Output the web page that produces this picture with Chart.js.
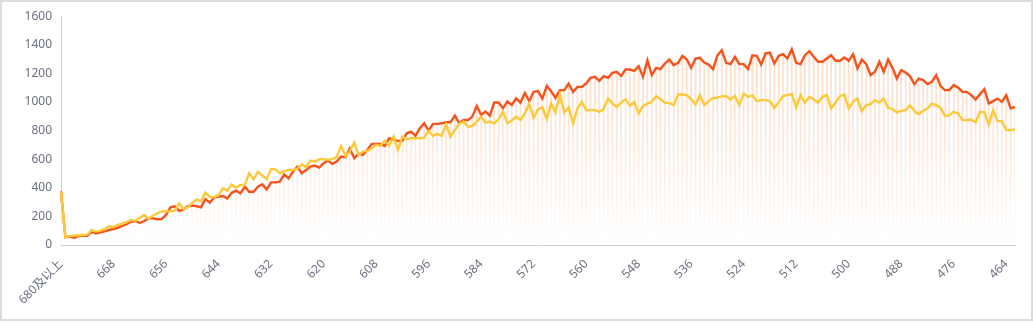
<!DOCTYPE html>
<html>
<head>
<meta charset="utf-8">
<script src="https://cdn.jsdelivr.net/npm/chart.js@4"></script>
<style>
  html, body { margin: 0; padding: 0; background: #fff; }
  #wrap { position: relative; width: 1033px; height: 330px; }
  #frame { position: absolute; left: 0; top: 0; width: 1033px; height: 321px; box-sizing: border-box; border: 2px solid #dcdcdc; pointer-events: none; }
  canvas { position: absolute; left: 0; top: 0; }
</style>
</head>
<body>
<div id="wrap">
  <canvas id="chart" width="1033" height="330"></canvas>
  <div id="frame"></div>
</div>
<script>
// score labels: first bucket is "680及以上", then 679 down to 462
const scoreLabels = ['680及以上'];
for (let s = 679; s >= 462; s--) scoreLabels.push(String(s));

// orange line (also drawn as the faded drop bars)
const countsOrange = [
    375, 55, 58, 50, 62, 65, 65, 93, 81, 88, 95, 105, 112, 120, 133, 145, 163, 168, 154, 168,
    186, 186, 180, 182, 210, 263, 271, 239, 248, 271, 276, 271, 263, 321, 296, 333, 338, 342, 326, 365,
    380, 361, 407, 372, 372, 407, 424, 389, 438, 438, 443, 494, 466,
    513, 548, 502, 525, 548, 555, 541, 572, 590, 567, 583, 618, 614, 676, 607, 637, 630, 665, 707, 707,
    707, 693, 746, 735, 728, 728, 781, 793, 763, 816, 851, 800, 847, 847, 851, 858, 858, 905, 851, 874,
    874, 898, 972, 909, 933, 905, 996, 996, 956, 1003, 979, 1026, 996, 1063, 1005,
    1071, 1076, 1024, 1113, 1076, 1029, 1083, 1083, 1129, 1071, 1106, 1106, 1129, 1169, 1176, 1148, 1181, 1169,
    1204, 1211, 1183, 1227, 1227, 1218, 1251, 1176, 1292, 1188, 1239, 1230, 1269, 1297, 1258, 1274, 1323, 1297,
    1239, 1304, 1309, 1276, 1262, 1230, 1327, 1362, 1274, 1265, 1316, 1265, 1265, 1230, 1327, 1323, 1262, 1340,
    1346, 1269, 1323, 1334, 1304, 1369, 1274, 1265, 1327, 1355, 1316, 1281, 1281, 1304, 1327, 1288, 1288, 1311,
    1288, 1334, 1234, 1297, 1265, 1188, 1211, 1281, 1211, 1297, 1239, 1164, 1223, 1206, 1181, 1125, 1164, 1153,
    1125, 1141, 1188, 1111, 1083, 1083, 1118, 1101, 1071, 1071, 1048, 1017, 1055, 1090, 989, 1006, 1024, 1001,
    1048, 955, 966
];

// yellow line
const countsYellow = [
    370, 55, 62, 65, 68, 70, 72, 105, 92, 100, 112, 133, 125, 140, 150, 160, 175, 168, 190, 210,
    185, 205, 222, 233, 238, 235, 240, 291, 250, 265, 295, 319, 305, 365, 337, 335, 350, 396, 380, 424,
    400, 420, 420, 501, 459, 512, 485, 460, 531, 529, 501, 517, 524,
    525, 532, 565, 544, 590, 583, 600, 600, 595, 600, 614, 693, 623, 653, 716, 630, 653, 658, 676, 700,
    693, 730, 693, 758, 665, 758, 739, 746, 746, 746, 751, 797, 763, 777, 763, 844, 758, 804, 847, 863,
    828, 833, 863, 898, 856, 863, 851, 879, 933, 851, 870, 898, 874, 920, 989,
    889, 948, 962, 880, 989, 927, 1052, 927, 962, 850, 955, 1001, 943, 943, 943, 931, 950, 1024,
    989, 966, 996, 1020, 973, 1001, 920, 973, 989, 1001, 1041, 1020, 994, 994, 978, 1052, 1052, 1048,
    1020, 983, 1048, 978, 1006, 1029, 1029, 1041, 1041, 1017, 1043, 978, 1059, 1036, 1048, 1006, 1013, 1013,
    1006, 959, 996, 1041, 1048, 1055, 962, 1048, 994, 1036, 1017, 996, 1036, 1048, 955, 996, 1041, 1052,
    955, 1001, 1024, 936, 978, 985, 1013, 996, 1024, 959, 950, 927, 938, 943, 978, 936, 915, 938,
    955, 989, 978, 959, 903, 908, 931, 920, 873, 873, 878, 857, 931, 927, 843, 943, 866, 866,
    803, 803, 808
];

const yTicks = [0, 200, 400, 600, 800, 1000, 1200, 1400, 1600];
const labelEvery = 12;

const fontFamily = "'Noto Sans', 'Noto Sans CJK SC', sans-serif";

function dropGradient(context) {
    const chart = context.chart;
    const area = chart.chartArea;
    if (!area) return 'rgba(250,210,180,0.6)';
    const g = chart.ctx.createLinearGradient(0, area.top, 0, area.bottom);
    g.addColorStop(0, 'rgb(252,214,188)');
    g.addColorStop(0.55, 'rgb(253,232,218)');
    g.addColorStop(1, 'rgb(255,255,255)');
    return g;
}

const ctx = document.getElementById('chart').getContext('2d');
new Chart(ctx, {
    data: {
        labels: scoreLabels,
        datasets: [
            { type: 'line', data: countsYellow, borderColor: '#fdc93a', borderWidth: 2.4, pointRadius: 0, tension: 0, order: 0 },
            { type: 'line', data: countsOrange, borderColor: '#f6531c', borderWidth: 2.4, pointRadius: 0, tension: 0, order: 1 },
            { type: 'bar', data: countsOrange, backgroundColor: dropGradient, barThickness: 1, order: 2 },
        ],
    },
    options: {
        responsive: false,
        animation: false,
        layout: { padding: { top: 16, right: 18, left: 0, bottom: 0 } },
        plugins: { legend: { display: false }, tooltip: { enabled: false } },
        scales: {
            x: {
                offset: false,
                grid: { display: false, drawTicks: false },
                border: { display: true, color: '#cfcfcf', dash: [4, 2], width: 1 },
                afterFit: (scale) => { scale.height = 85; },
                ticks: {
                    autoSkip: false,
                    minRotation: 45,
                    maxRotation: 45,
                    padding: 12,
                    color: '#6b7081',
                    font: { family: fontFamily, size: 12 },
                    callback: function (value, index) {
                        return index % labelEvery === 0 ? this.getLabelForValue(value) : null;
                    },
                },
            },
            y: {
                min: 0,
                max: 1600,
                afterBuildTicks: (scale) => { scale.ticks = yTicks.map(v => ({ value: v })); },
                afterFit: (scale) => { scale.width = 61; },
                grid: { display: false, drawTicks: false },
                border: { display: true, color: '#cfcfcf', width: 1 },
                ticks: {
                    padding: 9,
                    color: '#6b7081',
                    font: { family: fontFamily, size: 12 },
                    callback: (value) => String(value),
                },
            },
        },
    },
});
</script>
</body>
</html>
